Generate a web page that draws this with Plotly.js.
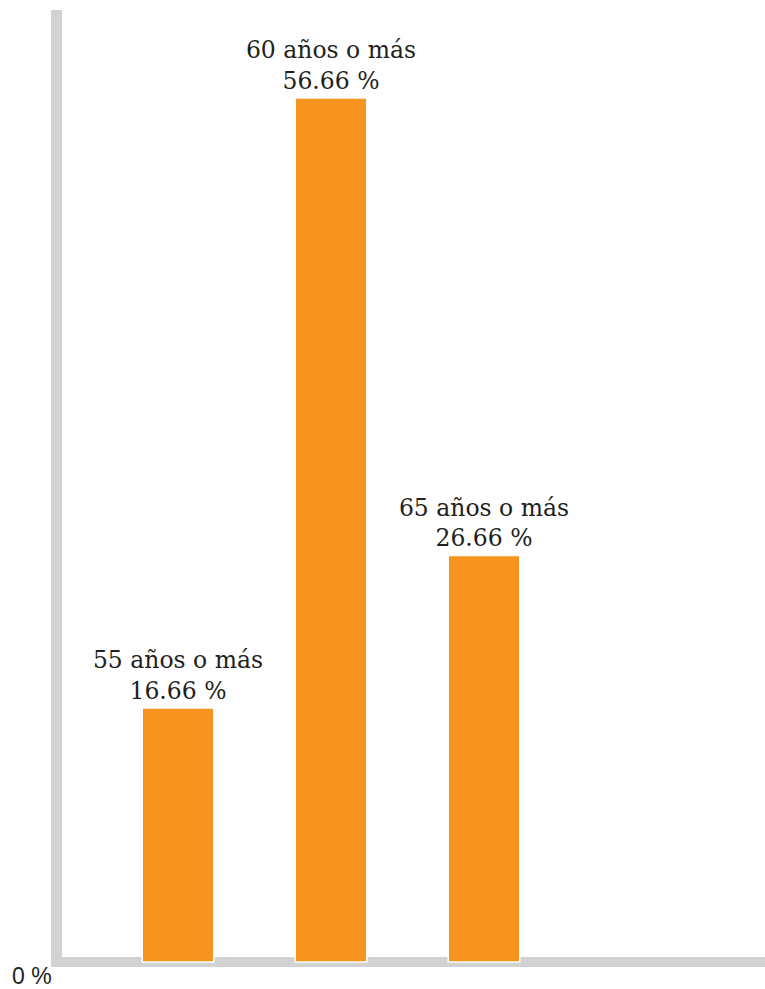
<!DOCTYPE html>
<html>
<head>
<meta charset="utf-8">
<script src="https://cdn.plot.ly/plotly-3.0.1.min.js"></script>
<style>html,body{margin:0;padding:0;background:#fff;}</style>
</head>
<body>
<div id="chart" style="width:765px;height:989px;"></div>
<script>
const categories = ["55 años o más", "60 años o más", "65 años o más"];
const values = [16.66, 56.66, 26.66];
const valueLabels = ["16.66 %", "56.66 %", "26.66 %"];
const zeroLabel = "0 %";

const W = 765, H = 989;
const labels = categories.map((c, i) => c + "<br>" + valueLabels[i]);

const trace = {
  type: "bar",
  x: categories,
  y: values,
  width: 0.468,
  text: labels,
  textposition: "outside",
  constraintext: "none",
  cliponaxis: false,
  textfont: {family: "DejaVu Serif", size: 23.5, color: "#231f20"},
  marker: {color: "#F7941E", line: {color: "#ffffff", width: 1.5}},
  hoverinfo: "none"
};

const grey = "#D1D2D4";
const layout = {
  width: W, height: H, autosize: false,
  margin: {l: 0, r: 0, t: 0, b: 0, pad: 0},
  paper_bgcolor: "#ffffff", plot_bgcolor: "#ffffff",
  showlegend: false,
  xaxis: {type: "category", range: [-1.1634, 3.8366], showgrid: false, zeroline: false,
          showticklabels: false, ticks: "", showline: false, fixedrange: true},
  yaxis: {range: [-1.770, 63.08], showgrid: false, zeroline: false,
          showticklabels: false, ticks: "", showline: false, fixedrange: true},
  shapes: [
    {type: "rect", xref: "paper", yref: "paper", layer: "below",
     x0: 51 / W, x1: 62 / W, y0: 1 - 967 / H, y1: 1 - 10 / H,
     fillcolor: grey, line: {width: 0}},
    {type: "rect", xref: "paper", yref: "paper", layer: "below",
     x0: 51 / W, x1: 1, y0: 1 - 967 / H, y1: 1 - 957 / H,
     fillcolor: grey, line: {width: 0}}
  ],
  annotations: [
    {text: zeroLabel, xref: "paper", yref: "paper", x: 11 / W, y: 1 - 976 / H,
     xanchor: "left", yanchor: "middle", showarrow: false, borderpad: 0,
     font: {family: "Liberation Sans", size: 23, color: "#231f20"}}
  ]
};

Plotly.newPlot("chart", [trace], layout, {displayModeBar: false, staticPlot: true});
</script>
</body>
</html>
